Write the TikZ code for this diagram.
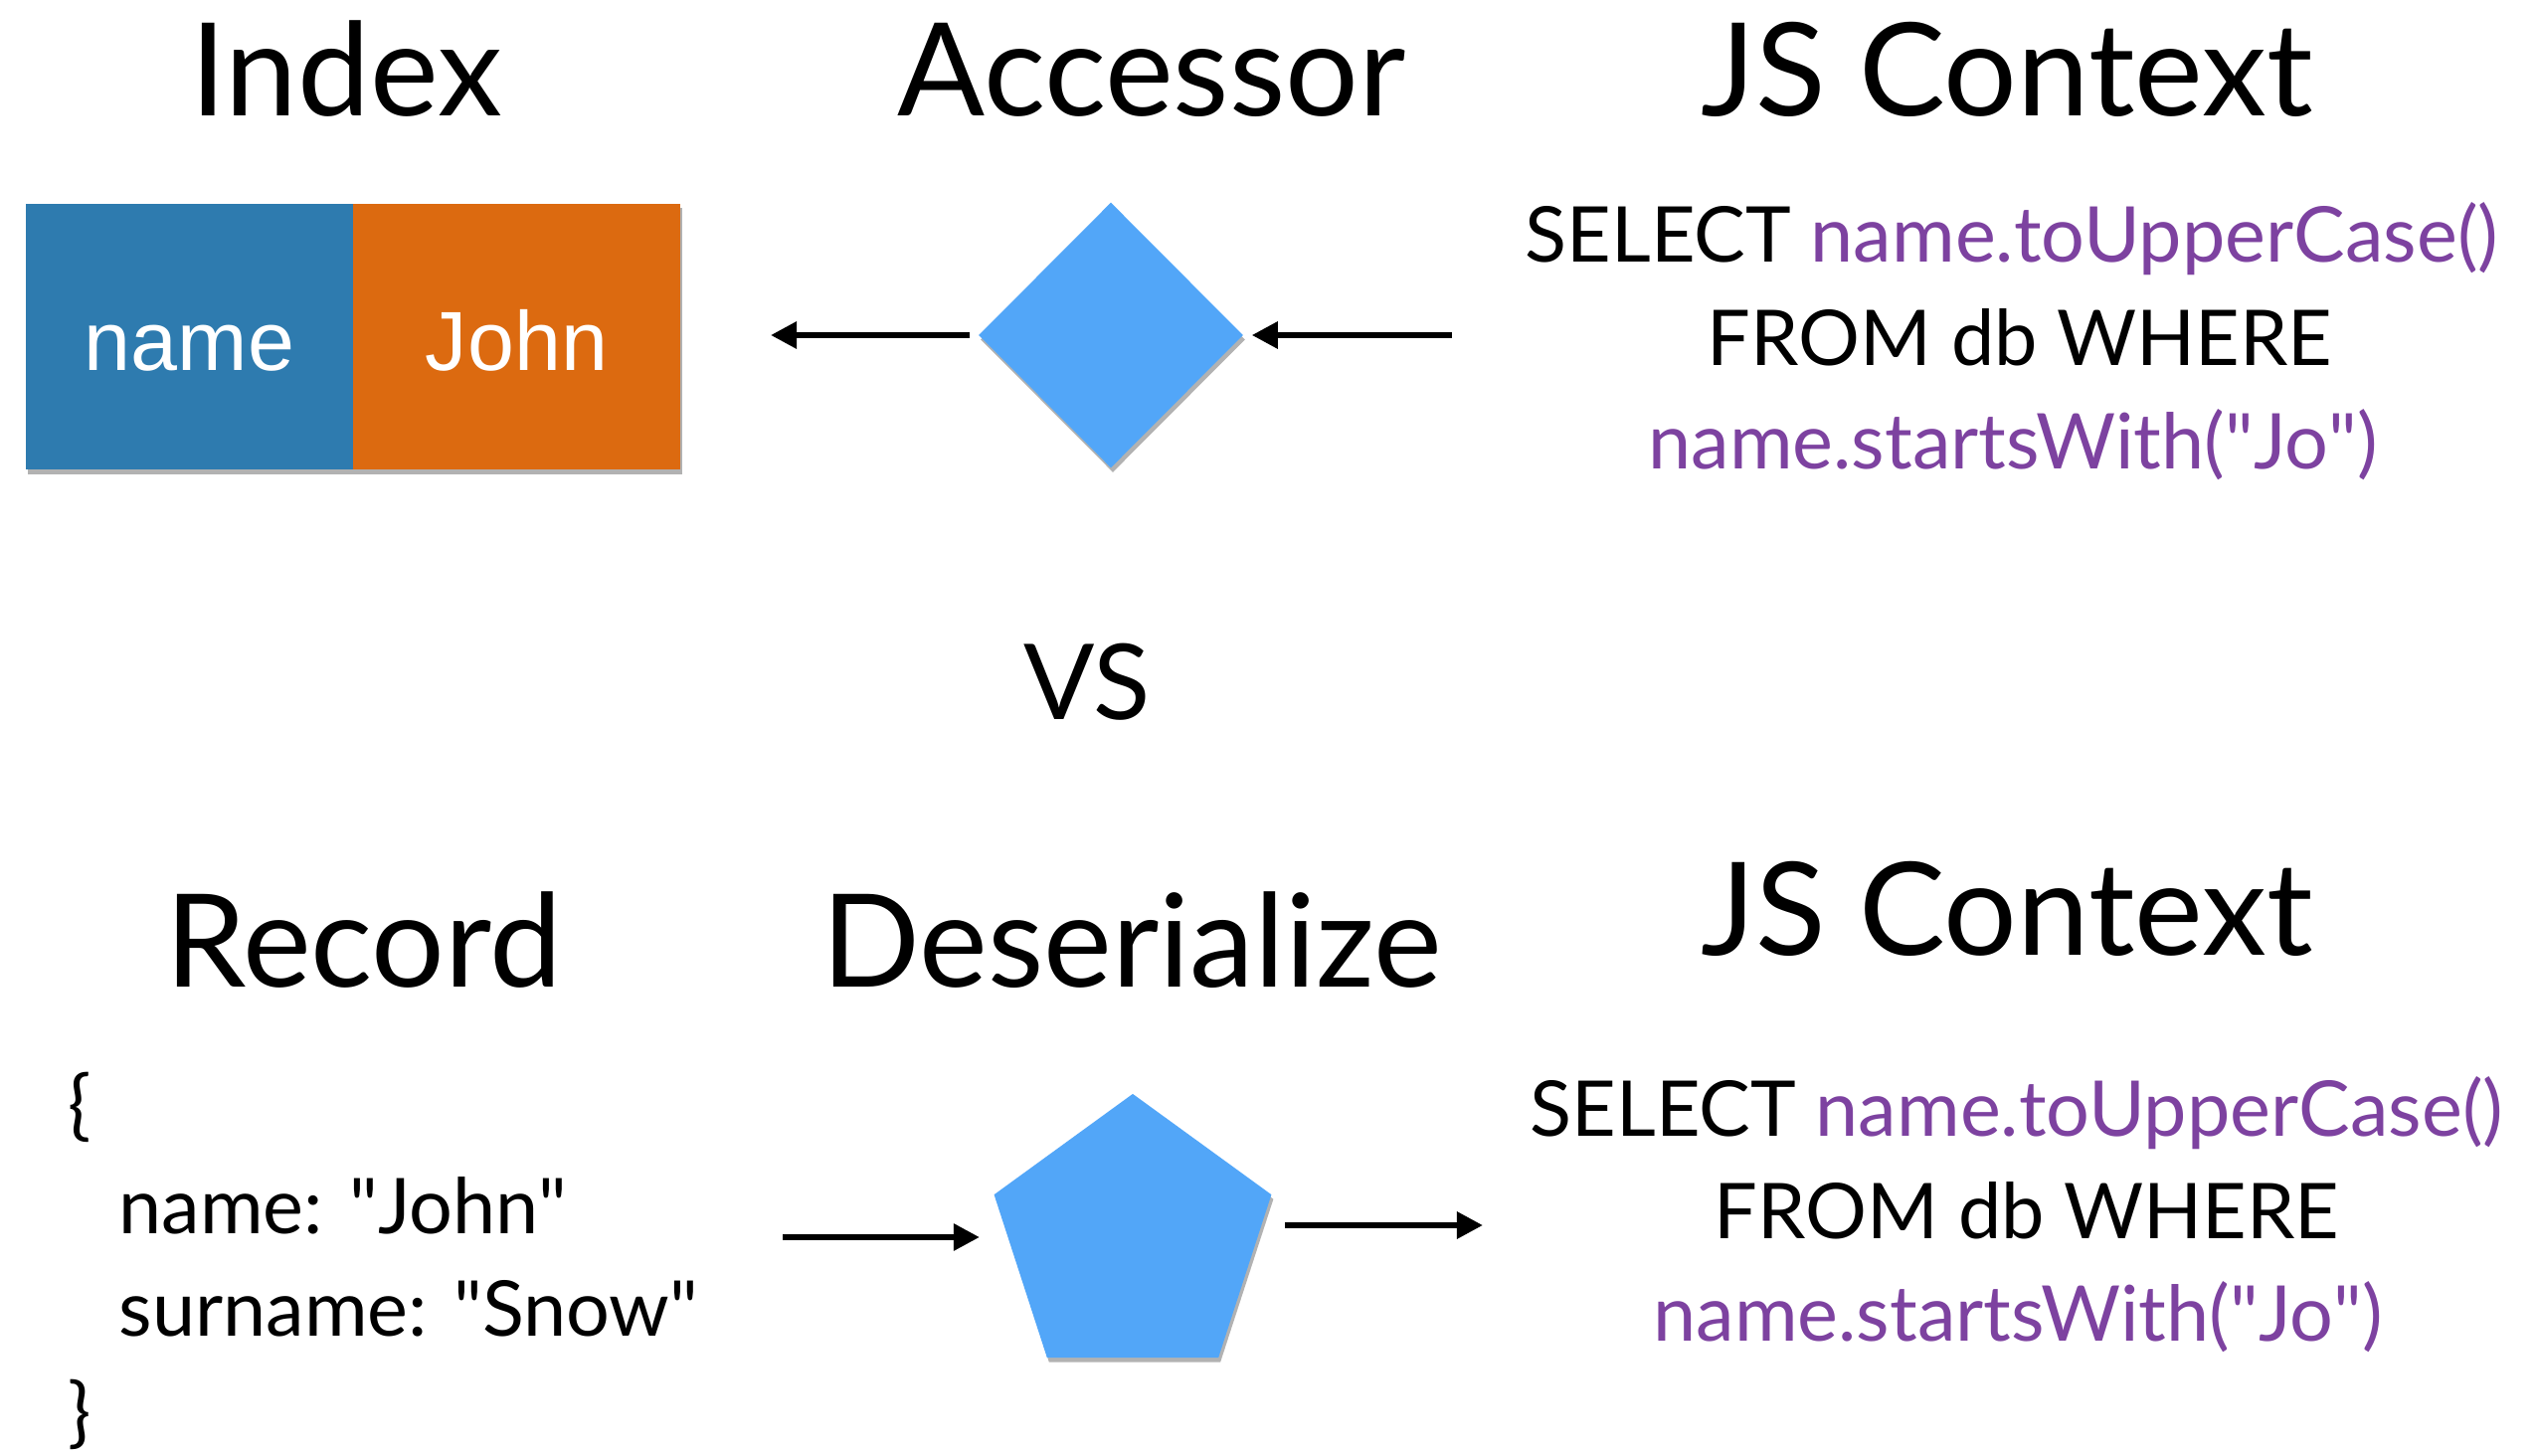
\documentclass[tikz,border=0pt]{standalone}
\usepackage{fontspec}
\setmainfont{Lato}
\newfontfamily\boxfont{Liberation Sans}
\usetikzlibrary{shapes.geometric, arrows.meta, shadows}
\definecolor{boxblue}{RGB}{46,123,175}
\definecolor{boxorange}{RGB}{220,106,16}
\definecolor{shapeblue}{RGB}{82,166,248}
\definecolor{codepurple}{RGB}{125,66,160}
\newcommand{\dq}{\XeTeXglyph\XeTeXcharglyph"22\relax}
\begin{document}
\begin{tikzpicture}[x=0.01cm, y=-0.01cm,
  title/.style={anchor=base, font=\fontsize{37}{44}\selectfont, inner sep=0},
  code/.style={anchor=base, font=\fontsize{22}{26}\selectfont, inner sep=0},
  json/.style={anchor=base west, font=\fontsize{22}{26}\selectfont, inner sep=0},
  sh/.style={drop shadow={shadow xshift=0.02cm, shadow yshift=-0.045cm, opacity=0.3, fill=black}},
  cell/.style={rectangle, minimum width=3.28cm, minimum height=2.67cm, inner sep=0,
    text height=0.77cm, text depth=0.1cm,
    font=\boxfont\fontsize{24}{28}\selectfont, text=white, sh},
  arr/.style={line width=0.06cm, -{Triangle[length=0.26cm, width=0.26cm]}}
]
\useasboundingbox (0,0) rectangle (2550,1464);

% titles
\node[title] (tIndex) at (348,117) {Index};
\node[title] (tAcc) at (1158,117) {Accessor};
\node[title] (tJSa) at (2018,117) {JS Context};
\node[anchor=base, font=\fontsize{30}{36}\selectfont, inner sep=0] (vs) at (1093,724) {VS};
\node[title] (tRec) at (366,992) {Record};
\node[title] (tDes) at (1138,992) {Deserialize};
\node[title] (tJSb) at (2018,960) {JS Context};

% index cells
\node[cell, fill=boxblue] (keycell) at (190.5,338.5) {name};
\node[cell, fill=boxorange] (valcell) at (519.5,338.5) {John};

% accessor diamond
\node[diamond, fill=shapeblue, minimum width=2.66cm, minimum height=2.67cm, inner sep=0, sh] (acc) at (1117,337) {};

% deserialize pentagon
\node[regular polygon, regular polygon sides=5, minimum size=2.93cm, inner sep=0, fill=shapeblue, sh] (des) at (1139,1246.5) {};

% top query
\node[code] (qa1) at (2023,264) {SELECT \textcolor{codepurple}{name.toUpperCase()}};
\node[code] (qa2) at (2031,368) {FROM db WHERE};
\node[code] (qa3) at (2024,472) {\textcolor{codepurple}{name.startsWith(\dq Jo\dq)}};

% bottom query
\node[code] (qb1) at (2028,1142) {SELECT \textcolor{codepurple}{name.toUpperCase()}};
\node[code] (qb2) at (2038,1245) {FROM db WHERE};
\node[code] (qb3) at (2029,1348) {\textcolor{codepurple}{name.startsWith(\dq Jo\dq)}};

% record json
\node[json] (j1) at (68,1137) {\{};
\node[json] (j2) at (119,1240) {name: \dq John\dq};
\node[json] (j3) at (119,1343) {surname: \dq Snow\dq};
\node[json] (j4) at (68,1446) {\}};

% arrows
\coordinate (a1end) at (775,337);
\coordinate (a2start) at (1460,337);
\draw[arr, shorten <=0.08cm] (acc.west) -- (a1end);
\draw[arr, shorten >=0.08cm] (a2start) -- (acc.east);

\coordinate (b1start) at (787,1244);
\coordinate (b2end) at (1491,1232);
\draw[arr, shorten >=1.54cm] (b1start) -- (b1start -| des.center);
\draw[arr, shorten <=1.53cm] (des.center |- b2end) -- (b2end);
\end{tikzpicture}
\end{document}
